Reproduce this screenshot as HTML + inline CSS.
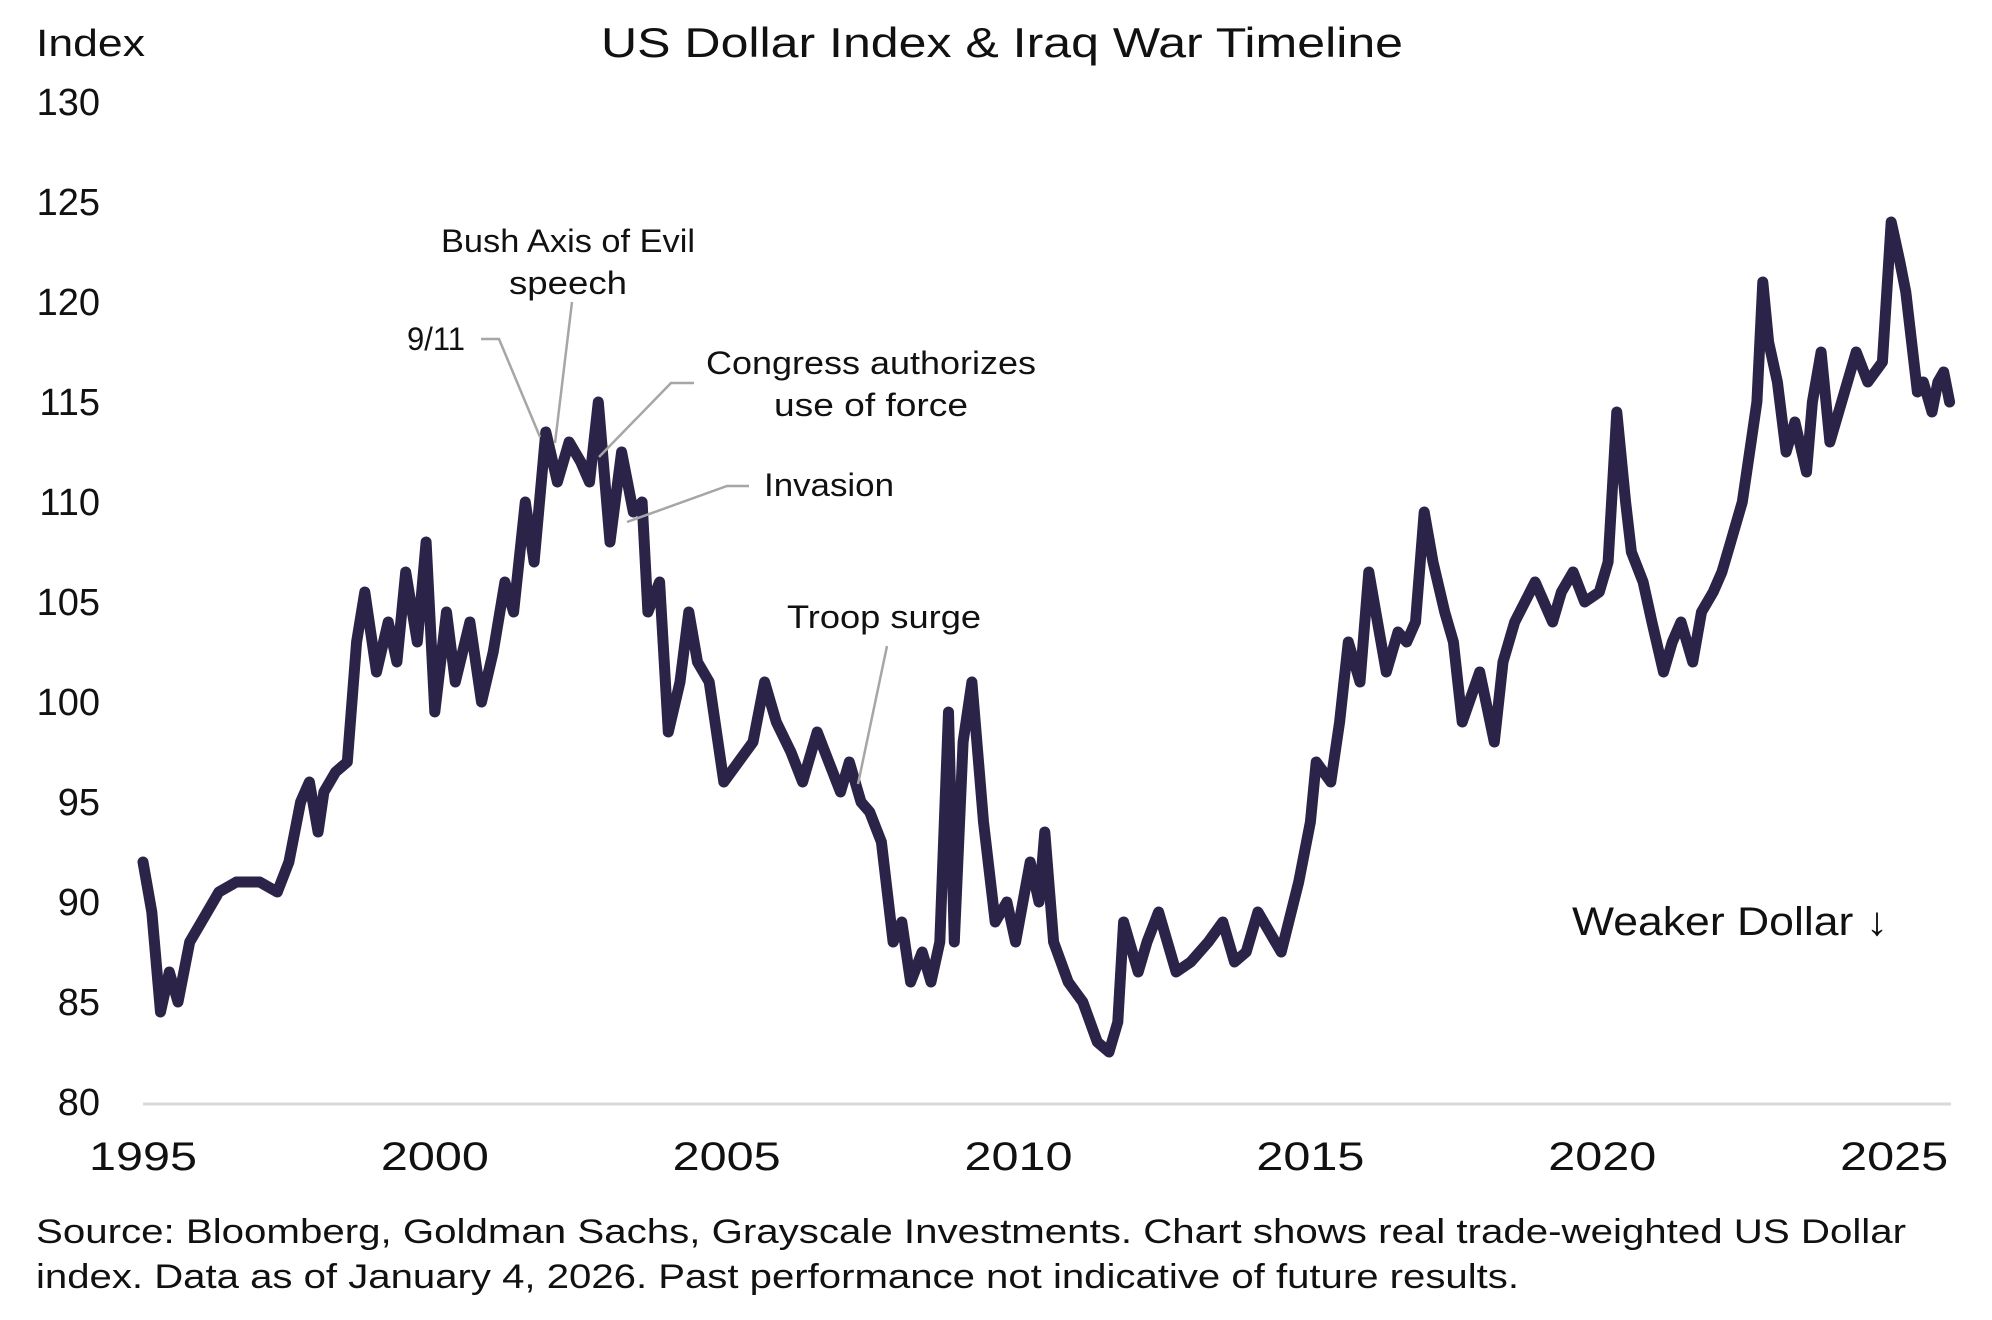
<!DOCTYPE html>
<html><head><meta charset="utf-8"><style>
html,body{margin:0;padding:0;background:#fff;}
svg{display:block;font-family:"Liberation Sans",sans-serif;}
</style></head><body>
<svg id="chart" width="1992" height="1320" viewBox="0 0 1992 1320">
<text x="1002" y="57" font-size="42" text-anchor="middle" textLength="802" lengthAdjust="spacingAndGlyphs" fill="#111">US Dollar Index &amp; Iraq War Timeline</text>
<text x="36" y="56" font-size="38" textLength="109" lengthAdjust="spacingAndGlyphs" fill="#111">Index</text>
<g id="yticks"></g>
<g id="xticks"></g>
<line x1="143" y1="1104" x2="1951" y2="1104" stroke="#d9d9d9" stroke-width="3"/>
<path id="series" fill="none" stroke="#2b2448" stroke-width="11" stroke-linejoin="round" stroke-linecap="round"/>
<g fill="none" stroke="#a6a6a6" stroke-width="2.5">
<polyline points="572,302 555,443"/>
<polyline points="481,339 499,339 540,437"/>
<polyline points="694,383 671,383 599,457"/>
<polyline points="749,486 727,486 627,522"/>
<polyline points="887,646 858,784"/>
</g>
<g font-size="32" fill="#111">
<text x="568" y="252" text-anchor="middle" textLength="254" lengthAdjust="spacingAndGlyphs">Bush Axis of Evil</text>
<text x="568" y="294" text-anchor="middle" textLength="118" lengthAdjust="spacingAndGlyphs">speech</text>
<text x="465" y="350" text-anchor="end" textLength="58" lengthAdjust="spacingAndGlyphs">9/11</text>
<text x="871" y="374" text-anchor="middle" textLength="330" lengthAdjust="spacingAndGlyphs">Congress authorizes</text>
<text x="871" y="416" text-anchor="middle" textLength="194" lengthAdjust="spacingAndGlyphs">use of force</text>
<text x="764" y="496" textLength="130" lengthAdjust="spacingAndGlyphs">Invasion</text>
<text x="884" y="628" text-anchor="middle" textLength="194" lengthAdjust="spacingAndGlyphs">Troop surge</text>
</g>
<text x="1572" y="935" font-size="40" textLength="316" lengthAdjust="spacingAndGlyphs" fill="#111">Weaker Dollar ↓</text>
<text x="36" y="1243" font-size="34" textLength="1870" lengthAdjust="spacingAndGlyphs" fill="#111">Source: Bloomberg, Goldman Sachs, Grayscale Investments. Chart shows real trade-weighted US Dollar</text>
<text x="36" y="1288" font-size="34" textLength="1483" lengthAdjust="spacingAndGlyphs" fill="#111">index. Data as of January 4, 2026. Past performance not indicative of future results.</text>
</svg>
<script>
const yTickValues=[80,85,90,95,100,105,110,115,120,125,130];
const xTickYears=[1995,2000,2005,2010,2015,2020,2025];
const dates=[1995.0,1995.15,1995.3,1995.45,1995.6,1995.8,1996.0,1996.3,1996.6,1997.0,1997.3,1997.5,1997.7,1997.85,1998.0,1998.1,1998.3,1998.5,1998.66,1998.8,1999.0,1999.2,1999.35,1999.5,1999.7,1999.85,2000.0,2000.2,2000.35,2000.6,2000.8,2001.0,2001.2,2001.35,2001.55,2001.7,2001.9,2002.1,2002.3,2002.5,2002.65,2002.8,2003.0,2003.2,2003.4,2003.55,2003.65,2003.85,2004.0,2004.2,2004.35,2004.5,2004.7,2004.95,2005.2,2005.45,2005.65,2005.85,2006.1,2006.3,2006.55,2006.75,2006.95,2007.1,2007.3,2007.45,2007.65,2007.85,2008.0,2008.15,2008.35,2008.5,2008.65,2008.8,2008.9,2009.05,2009.2,2009.4,2009.6,2009.8,2009.95,2010.2,2010.35,2010.45,2010.6,2010.85,2011.1,2011.35,2011.55,2011.7,2011.8,2012.05,2012.2,2012.4,2012.7,2012.95,2013.25,2013.5,2013.7,2013.9,2014.1,2014.3,2014.5,2014.8,2015.0,2015.1,2015.35,2015.5,2015.65,2015.85,2016.0,2016.15,2016.3,2016.5,2016.65,2016.8,2016.95,2017.1,2017.3,2017.45,2017.6,2017.9,2018.15,2018.3,2018.5,2018.85,2019.15,2019.3,2019.5,2019.7,2019.95,2020.1,2020.25,2020.4,2020.5,2020.7,2020.85,2021.05,2021.2,2021.35,2021.55,2021.7,2021.9,2022.05,2022.2,2022.4,2022.55,2022.65,2022.75,2022.85,2023.0,2023.15,2023.3,2023.5,2023.6,2023.75,2023.9,2024.1,2024.35,2024.55,2024.8,2024.95,2025.1,2025.2,2025.3,2025.4,2025.5,2025.65,2025.75,2025.85,2025.95,2026.0];
const values=[92,89.5,84.5,86.5,85,88,89,90.5,91,91,90.5,92,95,96,93.5,95.5,96.5,97,103,105.5,101.5,104,102,106.5,103,108,99.5,104.5,101,104,100,102.5,106,104.5,110,107,113.5,111,113,112,111,115,108,112.5,109.5,110,104.5,106,98.5,101,104.5,102,101,96,97,98,101,99,97.5,96,98.5,97,95.5,97,95,94.5,93,88,89,86,87.5,86,88,99.5,88,98,101,94,89,90,88,92,90,93.5,88,86,85,83,82.5,84,89,86.5,88,89.5,86.5,87,88,89,87,87.5,89.5,88.5,87.5,91,94,97,96,99,103,101,106.5,104,101.5,103.5,103,104,109.5,107,104.5,103,99,101.5,98,102,104,106,104,105.5,106.5,105,105.5,107,114.5,110,107.5,106,104,101.5,103,104,102,104.5,105.5,106.5,108,110,113,115,121,118,116,112.5,114,111.5,115,117.5,113,115,117.5,116,117,124,122,120.5,118,115.5,116,114.5,116,116.5,115];
const X0=143, PXY=58.37, Y80=1102, PXV=20;
function xs(t){return X0+(t-1995)*PXY;}
function ys(v){return Y80-(v-80)*PXV;}
const NS='http://www.w3.org/2000/svg';
const yg=document.getElementById('yticks');
yTickValues.forEach(v=>{
  const t=document.createElementNS(NS,'text');
  t.setAttribute('x',100);t.setAttribute('y',ys(v)+13);
  t.setAttribute('font-size','38');t.setAttribute('text-anchor','end');t.setAttribute('fill','#111');
  
  
  t.textContent=v;yg.appendChild(t);
});
const xg=document.getElementById('xticks');
xTickYears.forEach(y=>{
  const t=document.createElementNS(NS,'text');
  t.setAttribute('x',xs(y));t.setAttribute('y',1170);
  t.setAttribute('font-size','40');t.setAttribute('text-anchor','middle');t.setAttribute('fill','#111');
  t.setAttribute('textLength','108');t.setAttribute('lengthAdjust','spacingAndGlyphs');
  
  
  t.textContent=y;xg.appendChild(t);
});
let d='';
dates.forEach((t,i)=>{d+=(i?'L':'M')+xs(t).toFixed(1)+','+ys(values[i]).toFixed(1);});
document.getElementById('series').setAttribute('d',d);
</script>
</body></html>
